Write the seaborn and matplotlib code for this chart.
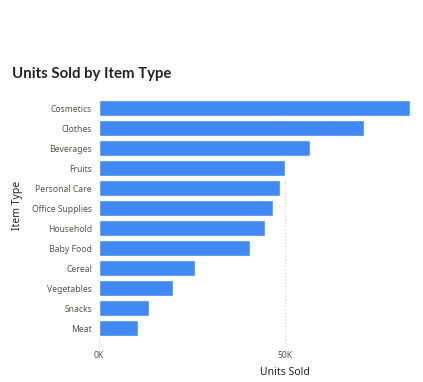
import matplotlib
matplotlib.use("Agg")
import matplotlib.pyplot as plt
import seaborn as sns
import pandas as pd
from matplotlib.ticker import FuncFormatter

item_types = ["Cosmetics", "Clothes", "Beverages", "Fruits", "Personal Care",
              "Office Supplies", "Household", "Baby Food", "Cereal",
              "Vegetables", "Snacks", "Meat"]
units_sold = [83600, 71200, 56600, 49900, 48600, 46900, 44700, 40500,
              25800, 20000, 13500, 10600]

df = pd.DataFrame({"Item Type": item_types, "Units Sold": units_sold})

sns.set_theme(style="white")
plt.rcParams['font.family'] = ['Noto Sans', 'DejaVu Sans']

W, H = 423, 382
fig = plt.figure(figsize=(W / 100, H / 100), dpi=100)
ax = fig.add_axes([99 / W, 1 - 338 / H, (410 - 99) / W, (338 - 98) / H])

sns.barplot(data=df, x="Units Sold", y="Item Type", color="#4189F5",
            saturation=1, width=0.78, ax=ax, orient="h")

ax.set_xlim(0, 83600)
ax.set_ylim(11.5, -0.5)
ax.set_xticks([0, 50000])
ax.xaxis.set_major_formatter(FuncFormatter(lambda v, p: f"{int(v/1000)}K"))
ax.grid(False)
for xv in [0, 50000]:
    ax.axvline(xv, color="#D0CECC", linestyle=(0, (1, 2)), linewidth=0.8,
               zorder=0, ymin=-0.05, clip_on=False)

for s in ax.spines.values():
    s.set_visible(False)

ax.tick_params(axis="y", length=0, pad=5, labelsize=6.2, labelcolor="#555350")
ax.tick_params(axis="x", length=0, pad=9, labelsize=6.2, labelcolor="#555350")

ax.set_xlabel("Units Sold", fontsize=7.5, color="#252423")
ax.set_ylabel("Item Type", fontsize=7.5, color="#252423")
ax.xaxis.set_label_coords((285 - 99) / (410 - 99), -(367 - 338) / (338 - 98))
ax.yaxis.set_label_coords(-(99 - 23) / (410 - 99), (338 - 205) / (338 - 98))

fig.text(12 / W, 1 - 74 / H, "Units Sold by Item Type", fontsize=10.8,
         fontweight="bold", color="#252423", va="center", ha="left",
         family=["Lato", "DejaVu Sans"])

fig.savefig("out.png", dpi=100, facecolor="white")
